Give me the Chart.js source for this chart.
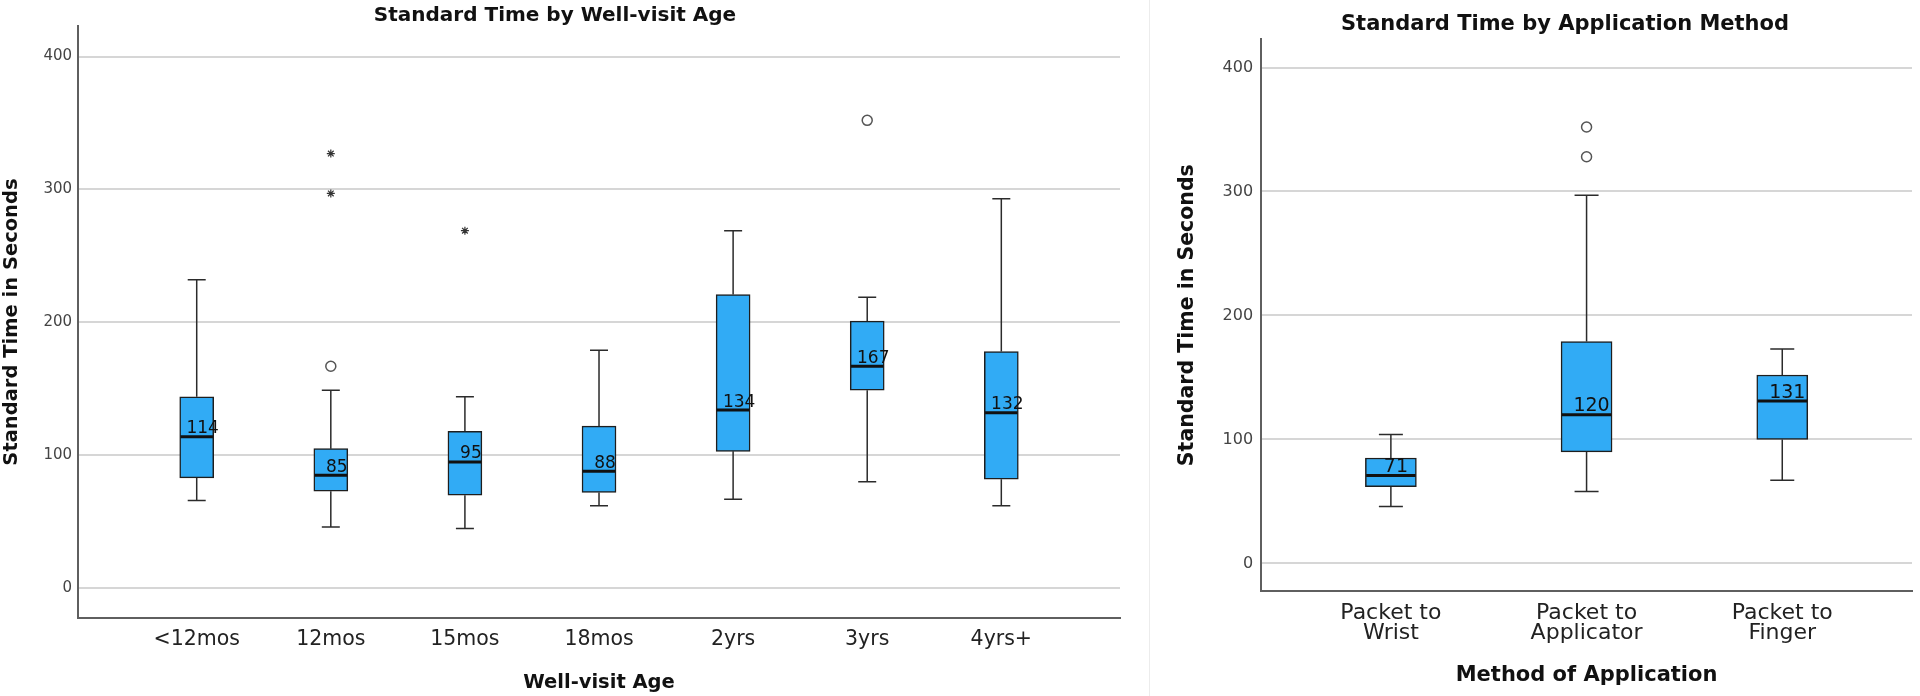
<!DOCTYPE html>
<html><head><meta charset="utf-8">
<script src="https://cdn.jsdelivr.net/npm/chart.js@4.4.1/dist/chart.umd.min.js"></script>
<style>
html,body{margin:0;padding:0;background:#fff;}
#wrap{position:relative;width:1920px;height:696px;overflow:hidden;background:#fff;}
#p1{position:absolute;left:0;top:0;width:1150px;height:696px;}
#p2{position:absolute;left:1150px;top:0;width:770px;height:696px;}
#sep{position:absolute;left:1149px;top:0;width:1px;height:696px;background:#ececec;}
canvas{display:block;}
</style></head><body>
<div id="wrap">
  <div id="p1"><canvas id="c1" width="1150" height="696"></canvas></div>
  <div id="sep"></div>
  <div id="p2"><canvas id="c2" width="770" height="696"></canvas></div>
</div>
<script>
// ---------- data ----------
const ageCategories = ['<12mos', '12mos', '15mos', '18mos', '2yrs', '3yrs', '4yrs+'];
const ageLowerWhisker = [66, 46, 45, 62, 67, 80, 62];
const ageQ1 = [83, 73, 70, 72, 103, 149, 82];
const ageMedian = [114, 85, 95, 88, 134, 167, 132];
const ageQ3 = [144, 105, 118, 122, 221, 201, 178];
const ageUpperWhisker = [232, 149, 144, 179, 269, 219, 293];
const ageOutliers = [[], [167], [], [], [], [352], []];
const ageExtremes = [[], [327, 297], [269], [], [], [], []];

const methodCategories = [['Packet to', 'Wrist'], ['Packet to', 'Applicator'], ['Packet to', 'Finger']];
const methodLowerWhisker = [46, 58, 67];
const methodQ1 = [62, 90, 100];
const methodMedian = [71, 120, 131];
const methodQ3 = [85, 179, 152];
const methodUpperWhisker = [104, 297, 173];
const methodOutliers = [[], [352, 328], []];
const methodExtremes = [[], [], []];

const yTickValues = [0, 100, 200, 300, 400];

// ---------- helpers ----------
Chart.defaults.font.family = '"DejaVu Sans", "Liberation Sans", sans-serif';

function flattenPoints(lists) {
  const pts = [];
  lists.forEach((vals, i) => vals.forEach(v => pts.push({x: i, y: v})));
  return pts;
}

function boxExtras(stats) {
  return {
    id: 'boxExtras',
    beforeDatasetsDraw(chart) {
      const {ctx, scales: {x, y}} = chart;
      ctx.save();
      ctx.strokeStyle = '#2b2b2b';
      ctx.lineWidth = 1.5;
      stats.median.forEach((m, i) => {
        const cx = x.getPixelForValue(i);
        const cap = stats.capWidth / 2;
        const yl = y.getPixelForValue(stats.lower[i]);
        const yu = y.getPixelForValue(stats.upper[i]);
        const yq1 = y.getPixelForValue(stats.q1[i]);
        const yq3 = y.getPixelForValue(stats.q3[i]);
        ctx.beginPath();
        ctx.moveTo(cx, yq3); ctx.lineTo(cx, yu);
        ctx.moveTo(cx - cap, yu); ctx.lineTo(cx + cap, yu);
        ctx.moveTo(cx, yq1); ctx.lineTo(cx, yl);
        ctx.moveTo(cx - cap, yl); ctx.lineTo(cx + cap, yl);
        ctx.stroke();
      });
      ctx.restore();
    },
    afterDatasetsDraw(chart) {
      const {ctx, scales: {x, y}} = chart;
      const meta = chart.getDatasetMeta(0);
      ctx.save();
      stats.median.forEach((m, i) => {
        const bar = meta.data[i].getProps(['x', 'width'], true);
        const half = bar.width / 2;
        const ym = y.getPixelForValue(m);
        ctx.strokeStyle = '#111';
        ctx.lineWidth = 3;
        ctx.beginPath();
        ctx.moveTo(bar.x - half + 0.75, ym);
        ctx.lineTo(bar.x + half - 0.75, ym);
        ctx.stroke();
        ctx.fillStyle = '#111';
        ctx.font = stats.labelSize + 'px "DejaVu Sans"';
        ctx.textAlign = 'center';
        ctx.textBaseline = 'alphabetic';
        ctx.fillText(String(m), bar.x + stats.labelOffset, ym - 3.5);
      });
      ctx.restore();
    }
  };
}

function panelTitle(text, cx, cy, size) {
  return {
    id: 'panelTitle',
    afterDraw(chart) {
      const ctx = chart.ctx;
      ctx.save();
      ctx.fillStyle = '#111';
      ctx.font = 'bold ' + size + 'px "DejaVu Sans"';
      ctx.textAlign = 'center';
      ctx.textBaseline = 'middle';
      ctx.fillText(text, cx, cy);
      ctx.restore();
    }
  };
}

function makeChart(canvasId, cfg) {
  const n = cfg.categories.length;
  return new Chart(document.getElementById(canvasId), {
    type: 'bar',
    data: {
      datasets: [
        {
          type: 'bar',
          data: cfg.categories.map((c, i) => ({x: i, y: [cfg.q1[i], cfg.q3[i]]})),
          backgroundColor: '#31abf5',
          borderColor: '#1e1e1e',
          borderWidth: 1.5,
          borderSkipped: false,
          barThickness: cfg.boxWidth,
          grouped: false,
          order: 3
        },
        {
          type: 'scatter',
          data: flattenPoints(cfg.outliers),
          pointStyle: 'circle',
          pointRadius: 5,
          backgroundColor: '#ffffff',
          borderColor: '#555',
          borderWidth: 1.5,
          order: 1
        },
        {
          type: 'scatter',
          data: flattenPoints(cfg.extremes),
          pointStyle: 'star',
          pointRadius: 4,
          backgroundColor: '#333',
          borderColor: '#333',
          borderWidth: 1.2,
          order: 1
        }
      ]
    },
    options: {
      responsive: false,
      devicePixelRatio: 1,
      animation: false,
      layout: {padding: cfg.padding},
      plugins: {legend: {display: false}, tooltip: {enabled: false}, title: {display: false}},
      scales: {
        x: {
          type: 'linear',
          min: -cfg.edge,
          max: n - 1 + cfg.edge,
          offset: false,
          grid: {display: false, drawTicks: false},
          border: {display: true, color: '#5f5f5f', width: 2},
          afterBuildTicks: s => { s.ticks = cfg.categories.map((c, i) => ({value: i})); },
          ticks: {
            autoSkip: false, maxRotation: 0, minRotation: 0,
            padding: cfg.xTickPad, color: '#222',
            font: {size: cfg.xTickSize, lineHeight: cfg.xTickLH},
            callback: v => cfg.categories[v]
          },
          title: {
            display: true, text: cfg.xTitle, color: '#111',
            font: {size: cfg.xTitleSize, weight: 'bold', lineHeight: 1.2},
            padding: cfg.xTitlePad
          }
        },
        y: {
          type: 'linear',
          min: -22.5,
          max: 423,
          afterBuildTicks: s => { s.ticks = yTickValues.map(v => ({value: v})); },
          grid: {color: '#d6d6d6', lineWidth: 2, drawTicks: false},
          border: {display: true, color: '#5f5f5f', width: 2},
          ticks: {padding: cfg.yTickPad, color: '#444', font: {size: cfg.yTickSize}},
          title: {
            display: true, text: 'Standard Time in Seconds', color: '#111',
            font: {size: cfg.yTitleSize, weight: 'bold', lineHeight: 1.2},
            padding: cfg.yTitlePad
          }
        }
      }
    },
    plugins: [
      boxExtras({
        lower: cfg.lower, upper: cfg.upper, q1: cfg.q1, q3: cfg.q3, median: cfg.median,
        capWidth: cfg.capWidth, labelSize: cfg.labelSize, labelOffset: cfg.labelOffset
      }),
      panelTitle(cfg.title, cfg.titleX, cfg.titleY, cfg.titleSize)
    ]
  });
}

makeChart('c1', {
  categories: ageCategories,
  lower: ageLowerWhisker, q1: ageQ1, median: ageMedian, q3: ageQ3, upper: ageUpperWhisker,
  outliers: ageOutliers, extremes: ageExtremes,
  edge: 0.885, boxWidth: 34, capWidth: 18, labelSize: 17, labelOffset: 6,
  padding: {left: 0, top: 26, right: 30, bottom: 0},
  xTickPad: 11, xTickSize: 20.5, xTickLH: 1,
  xTitle: 'Well-visit Age', xTitleSize: 19.5, xTitlePad: {top: 11, bottom: 1},
  yTickPad: 6, yTickSize: 15, yTitleSize: 19.5, yTitlePad: {top: 0, bottom: 14},
  title: 'Standard Time by Well-visit Age', titleX: 555, titleY: 16, titleSize: 20
});

makeChart('c2', {
  categories: methodCategories,
  lower: methodLowerWhisker, q1: methodQ1, median: methodMedian, q3: methodQ3, upper: methodUpperWhisker,
  outliers: methodOutliers, extremes: methodExtremes,
  edge: 0.663, boxWidth: 51, capWidth: 24, labelSize: 19, labelOffset: 5,
  padding: {left: 25, top: 39, right: 8, bottom: 0},
  xTickPad: 12, xTickSize: 22, xTickLH: 0.92,
  xTitle: 'Method of Application', xTitleSize: 21, xTitlePad: {top: 7, bottom: 8},
  yTickPad: 8, yTickSize: 16, yTitleSize: 20.5, yTitlePad: {top: 0, bottom: 15},
  title: 'Standard Time by Application Method', titleX: 415, titleY: 25, titleSize: 21
});
</script>
</body></html>
